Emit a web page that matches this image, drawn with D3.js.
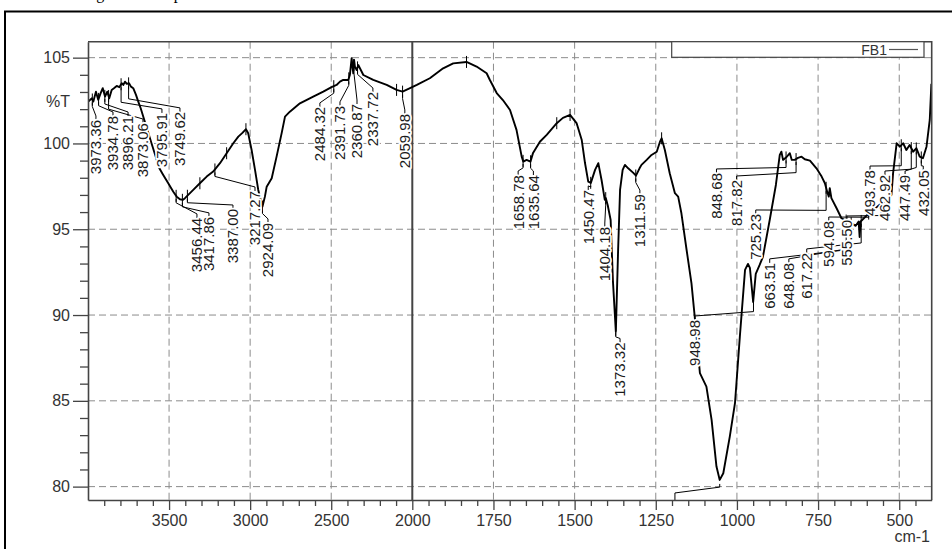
<!DOCTYPE html>
<html>
<head>
<meta charset="utf-8">
<script src="https://cdn.jsdelivr.net/npm/d3@7"></script>
<style>
  html, body { margin: 0; padding: 0; background: #fff; }
  svg { display: block; font-family: "Liberation Sans", Arial, Helvetica, sans-serif; }
</style>
</head>
<body>
<svg id="chart" width="952" height="549"></svg>
<script>
// ---- FTIR spectrum of sample FB1 (wavenumber in cm-1, transmittance in %T) ----
const wavenumber = [
  4000, 3998, 3977, 3967, 3951, 3937, 3922, 3909, 3895, 3881, 3869, 3854, 3840, 3823, 3807,
  3792, 3782, 3772, 3761, 3747, 3735, 3721, 3704, 3690, 3675, 3659, 3644, 3605, 3560, 3536,
  3505, 3474, 3453, 3433, 3416, 3402, 3382, 3351, 3310, 3268, 3228, 3186, 3145, 3104, 3073,
  3046, 3026, 3012, 2991, 2970, 2950, 2935, 2924, 2909, 2898, 2867, 2837, 2806, 2785, 2755,
  2693, 2611, 2549, 2498, 2467, 2446, 2426, 2395, 2385, 2374, 2368, 2364, 2359, 2354, 2343,
  2333, 2323, 2312, 2302, 2241, 2158, 2097, 2060, 2014, 1986, 1946, 1905, 1874, 1833, 1802,
  1771, 1761, 1740, 1721, 1699, 1679, 1663, 1658, 1648, 1636, 1628, 1607, 1586, 1555, 1536,
  1514, 1494, 1478, 1468, 1458, 1450, 1437, 1427, 1417, 1407, 1404, 1398, 1389, 1382, 1373,
  1366, 1360, 1352, 1345, 1335, 1320, 1311, 1300, 1294, 1278, 1263, 1247, 1237, 1232, 1222,
  1207, 1191, 1181, 1171, 1155, 1140, 1130, 1114, 1094, 1078, 1063, 1053, 1042, 1022, 1006,
  991, 975, 966, 960, 950, 942, 930, 920, 899, 880, 868, 863, 858, 847, 837,
  831, 822, 812, 801, 791, 775, 755, 739, 729, 722, 717, 714, 709, 693, 678,
  652, 634, 625, 622, 619, 592, 561, 539, 524, 519, 508, 498, 488, 478, 468,
  457, 447, 437, 427, 416, 406, 401
];
const transmittance = [
  102.40, 102.44, 102.63, 102.44, 103.02, 102.54, 102.93, 103.22, 102.73, 103.02, 102.63, 103.12, 103.22, 103.35, 103.28,
  103.51, 103.41, 103.60, 103.47, 103.51, 103.31, 103.22, 102.83, 102.44, 102.05, 101.56, 101.10, 99.91, 98.55, 98.16,
  97.68, 97.19, 96.90, 96.75, 96.71, 96.81, 97.00, 97.29, 97.68, 98.07, 98.36, 98.85, 99.43, 100.01, 100.40,
  100.63, 100.83, 100.59, 99.62, 98.46, 97.29, 96.71, 96.32, 96.90, 97.48, 97.97, 99.23, 100.59, 101.56, 101.85,
  102.34, 102.73, 103.02, 103.28, 103.41, 103.60, 103.70, 103.70, 103.99, 104.97, 104.40, 104.09, 104.87, 104.48, 104.28,
  104.57, 104.38, 104.18, 103.99, 103.70, 103.41, 103.12, 103.02, 103.22, 103.41, 103.80, 104.38, 104.67, 104.75, 104.48,
  104.09, 103.70, 102.94, 102.53, 101.95, 100.79, 99.23, 98.94, 99.04, 98.94, 99.45, 100.10, 100.50, 101.18, 101.49,
  101.66, 101.19, 100.20, 98.86, 97.77, 97.70, 98.46, 98.85, 97.87, 96.71, 96.82, 96.40, 95.54, 92.00, 89.03,
  93.79, 97.29, 98.46, 98.75, 98.55, 98.30, 98.12, 98.55, 98.75, 99.04, 99.33, 99.52, 100.10, 100.30, 99.62,
  98.26, 97.10, 96.90, 95.93, 93.79, 91.85, 89.91, 86.61, 85.83, 83.89, 81.17, 80.39, 80.78, 82.91, 84.86,
  88.74, 92.63, 92.98, 92.75, 90.76, 92.40, 92.92, 93.39, 95.54, 97.58, 99.33, 99.52, 99.04, 99.21, 99.43,
  99.04, 99.04, 99.16, 99.23, 99.08, 99.00, 98.55, 98.07, 97.68, 97.19, 96.90, 97.39, 96.81, 96.22, 95.64,
  95.40, 95.20, 95.45, 94.55, 95.45, 95.95, 96.42, 96.70, 97.00, 98.26, 100.01, 99.81, 100.01, 99.62, 99.91,
  99.52, 99.72, 99.23, 99.14, 99.81, 101.37, 103.47
];

// Peak picks printed on the spectrum
const peakLabels = [
  "3973.36", "3934.78", "3896.21", "3873.06", "3795.91", "3749.62", "3456.44", "3417.86",
  "3387.00", "3217.27", "2924.09", "2484.32", "2391.73", "2360.87", "2337.72", "2059.98",
  "1658.78", "1635.64", "1450.47", "1404.18", "1373.32", "1311.59", "948.98", "848.68",
  "817.82", "725.23", "663.51", "648.08", "617.22", "594.08", "555.50", "493.78",
  "462.92", "447.49", "432.05"
];
// Unlabelled peak marks on the trace (cm-1)
const extraPeakMarks = [3310, 3145, 3026, 2097, 1833, 1555, 1514, 1232];

// Axis ticks
const xMajorTicks = [3500, 3000, 2500, 2000, 1750, 1500, 1250, 1000, 750, 500];
const yMajorTicks = [80, 85, 90, 95, 100, 105];
const seriesName = "FB1";

// Label placement: column centre (cm-1), top end of the text (%T),
// and an optional level (%T) where the leader leaves the peak's vertical
const labelPlacement = [
  [3951, 101.37, null], [3846, 101.60, 102.2], [3753, 101.60, 102.3], [3661, 101.19, 102.0],
  [3544, 101.78, 102.4], [3433, 101.84, 102.6],
  [3328, 95.66, null], [3254, 95.72, null], [3106, 96.18, null], [2970, 97.23, null],
  [2890, 95.37, null], [2570, 102.13, null],
  [2446, 102.19, null], [2341, 102.30, null], [2243, 103.00, null], [2046, 101.72, null],
  [1674, 98.16, null], [1627, 98.16, null],
  [1458, 97.29, null], [1407, 95.13, null], [1360, 88.40, null], [1299, 97.05, null],
  [1130, 89.71, 90.2], [1063, 98.28, 98.6],
  [1001, 97.87, 98.3], [942, 95.89, 96.1], [899, 93.04, 93.8], [840, 93.04, 93.9],
  [785, 93.62, 94.2], [717, 95.48, 95.7],
  [661, 95.54, 95.8], [590, 98.45, 98.7], [544, 98.16, 98.5], [482, 98.16, 98.6], [426, 98.45, 98.7]
];

// ---- layout ----
const svg = d3.select("#chart");
const plot = { left: 88, top: 41.7, right: 931.7, bottom: 500 };

// The region below 2000 cm-1 is expanded two-fold, as on the instrument printout
const x = d3.scaleLinear().domain([4000, 2000, 400]).range([plot.left, 412.3, plot.right]);
const y = d3.scaleLinear().domain([79.22, 105.93]).range([plot.bottom, plot.top]);

const spectrum = wavenumber.map((w, i) => [w, transmittance[i]]);
const asc = spectrum.slice().reverse();
const bis = d3.bisector(d => d[0]).left;
function tAt(w) {
  const i = Math.max(1, Math.min(asc.length - 1, bis(asc, w)));
  const a = asc[i - 1], b = asc[i];
  return a[1] + (b[1] - a[1]) * (w - a[0]) / (b[0] - a[0]);
}

// page frame and the caption running off the top edge
svg.append("text")
  .attr("x", 83).attr("y", -1)
  .attr("font-family", "'Liberation Serif', 'Times New Roman', serif")
  .attr("font-size", 16).attr("fill", "#000")
  .text("Fig. 4: FTIR spectrum of FB1");
svg.append("rect")
  .attr("x", 5).attr("y", 11.5).attr("width", 960).attr("height", 560)
  .attr("fill", "none").attr("stroke", "#000").attr("stroke-width", 2);

// clip to the plotting area
svg.append("defs").append("clipPath").attr("id", "plotClip")
  .append("rect").attr("x", plot.left).attr("y", plot.top)
  .attr("width", plot.right - plot.left).attr("height", plot.bottom - plot.top);

// grid
const grid = svg.append("g").attr("stroke", "#8c8c8c").attr("stroke-width", 1)
  .attr("stroke-dasharray", "7,4");
grid.selectAll("line.v").data(xMajorTicks.filter(d => d !== 2000)).join("line")
  .attr("class", "v")
  .attr("x1", d => x(d)).attr("x2", d => x(d))
  .attr("y1", plot.top).attr("y2", plot.bottom);
grid.selectAll("line.h").data(yMajorTicks).join("line")
  .attr("class", "h")
  .attr("x1", plot.left).attr("x2", plot.right)
  .attr("y1", d => y(d)).attr("y2", d => y(d));

// scale-change divider at 2000 cm-1
svg.append("line")
  .attr("x1", x(2000)).attr("x2", x(2000))
  .attr("y1", plot.top).attr("y2", plot.bottom)
  .attr("stroke", "#444").attr("stroke-width", 2);

const inner = svg.append("g").attr("clip-path", "url(#plotClip)");

// spectrum trace
inner.append("path")
  .datum(spectrum)
  .attr("fill", "none").attr("stroke", "#000").attr("stroke-width", 1.9)
  .attr("stroke-linejoin", "round")
  .attr("d", d3.line().x(d => x(d[0])).y(d => y(d[1])));

// peak marks on the trace
const marks = peakLabels.map(Number).concat(extraPeakMarks);
inner.append("g").selectAll("line").data(marks).join("line")
  .attr("x1", d => x(d)).attr("x2", d => x(d))
  .attr("y1", d => y(tAt(d)) - 6).attr("y2", d => y(tAt(d)) + 6)
  .attr("stroke", "#000").attr("stroke-width", 1);

// leader lines from each peak to its label
const peaks = peakLabels.map((t, i) => ({
  text: t, w: +t, lw: labelPlacement[i][0], lt: labelPlacement[i][1], knee: labelPlacement[i][2]
}));
inner.append("g").selectAll("path").data(peaks).join("path")
  .attr("fill", "none").attr("stroke", "#000").attr("stroke-width", 1)
  .attr("d", d => {
    const px = x(d.w), py = y(tAt(d.w));
    const lx = x(d.lw), ly = y(d.lt);
    const knee = d.knee != null ? y(d.knee) : Math.min(py + 7, ly - 3);
    return d3.line()([[px, py + 3], [px, knee], [lx, ly - 4], [lx, ly]]);
  });

// leader of the strongest band, whose label falls below the frame
inner.append("path")
  .attr("fill", "none").attr("stroke", "#000").attr("stroke-width", 1)
  .attr("d", d3.line()([
    [x(1053), y(tAt(1053)) + 4], [x(1053), y(79.97)],
    [x(1191), y(79.63)], [x(1191), y(79.22)]
  ]));

// peak labels, rotated, knocking out what lies beneath them
svg.append("g").selectAll("text").data(peaks).join("text")
  .attr("transform", d => `translate(${x(d.lw)},${y(d.lt)}) rotate(-90)`)
  .attr("text-anchor", "end")
  .attr("dy", "0.36em")
  .attr("font-size", 15)
  .attr("fill", "#1a1a1a")
  .attr("stroke", "#fff").attr("stroke-width", 3.5)
  .attr("stroke-linejoin", "round")
  .attr("paint-order", "stroke")
  .text(d => d.text);

// axes
const fmt = d3.format("d");
svg.append("g").attr("transform", `translate(0,${plot.bottom})`)
  .call(d3.axisBottom(x).tickValues(xMajorTicks).tickSize(10).tickSizeOuter(0)
    .tickPadding(5).tickFormat(fmt));
const xMinor = [];
for (let w = 3900; w > 2000; w -= 100) if (!xMajorTicks.includes(w)) xMinor.push(w);
for (let w = 1950; w > 400; w -= 50) if (!xMajorTicks.includes(w)) xMinor.push(w);
svg.append("g").attr("transform", `translate(0,${plot.bottom})`)
  .call(d3.axisBottom(x).tickValues(xMinor).tickSize(6).tickFormat(""))
  .call(g => g.select(".domain").remove());

svg.append("g").attr("transform", `translate(${plot.left},0)`)
  .call(d3.axisLeft(y).tickValues(yMajorTicks).tickSize(15).tickSizeOuter(0)
    .tickPadding(3).tickFormat(fmt));
const yMinor = d3.range(80, 106).filter(v => !yMajorTicks.includes(v));
svg.append("g").attr("transform", `translate(${plot.left},0)`)
  .call(d3.axisLeft(y).tickValues(yMinor).tickSize(8).tickFormat(""))
  .call(g => g.select(".domain").remove());

svg.selectAll(".domain").attr("stroke", "#444").attr("stroke-width", 1.6);
svg.selectAll(".tick line").attr("stroke", "#444").attr("stroke-width", 1.3);
svg.selectAll(".tick text").attr("font-size", 16).attr("fill", "#333")
  .attr("font-family", "'Liberation Sans', Arial, sans-serif");

// top and right edges of the plot frame
svg.append("path")
  .attr("fill", "none").attr("stroke", "#444").attr("stroke-width", 1.6)
  .attr("d", d3.line()([[plot.left, plot.top], [plot.right, plot.top], [plot.right, plot.bottom]]));

// axis captions
svg.append("text").attr("x", 70).attr("y", y(102.45)).attr("dy", "0.35em")
  .attr("text-anchor", "end").attr("font-size", 16).attr("fill", "#333").text("%T");
svg.append("text").attr("x", 930).attr("y", 542)
  .attr("text-anchor", "end").attr("font-size", 16).attr("fill", "#333").text("cm-1");

// legend
const lg = svg.append("g");
lg.append("rect").attr("x", 671.7).attr("y", plot.top).attr("width", 252.3).attr("height", 15.6)
  .attr("fill", "#fff").attr("stroke", "#444").attr("stroke-width", 1.2);
lg.append("text").attr("x", 887).attr("y", 54.5).attr("text-anchor", "end")
  .attr("font-size", 14).attr("fill", "#333").text(seriesName);
lg.append("line").attr("x1", 889).attr("x2", 918).attr("y1", 49.5).attr("y2", 49.5)
  .attr("stroke", "#555").attr("stroke-width", 1.2);
</script>
</body>
</html>
